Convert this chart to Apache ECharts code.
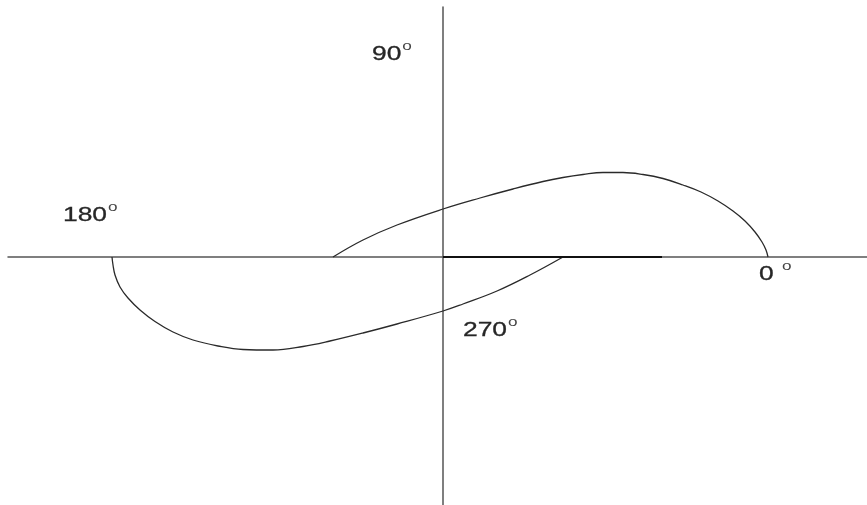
<!DOCTYPE html>
<html>
<head>
<meta charset="utf-8">
<script src="https://cdn.jsdelivr.net/npm/echarts@6/dist/echarts.min.js"></script>
<style>
  html, body { margin: 0; padding: 0; background: #fff; }
  #chart { width: 867px; height: 505px; }
</style>
</head>
<body>
<div id="chart"></div>
<script>
// Polar plot of the frequency response: real part on x, imaginary part on y.
// Upper branch (0° side) sweeping from the real axis at 3.25 back to -1.10.
const upperBranch = [
  [3.25, 0.00], [3.23, 0.07], [3.19, 0.15], [3.12, 0.25], [3.02, 0.36],
  [2.90, 0.46], [2.75, 0.56], [2.58, 0.65], [2.40, 0.72], [2.20, 0.785],
  [2.00, 0.825], [1.80, 0.845], [1.60, 0.845], [1.40, 0.825], [1.20, 0.795],
  [1.00, 0.755], [0.70, 0.68], [0.37, 0.59], [0.00, 0.48], [-0.46, 0.32],
  [-0.80, 0.17], [-1.10, 0.00]
];
// Lower branch (180° side) from the real axis at 1.20 round to -3.31.
const lowerBranch = [
  [1.20, 0.00], [0.87, -0.18], [0.54, -0.34], [0.20, -0.47], [0.00, -0.54],
  [-0.46, -0.67], [-0.80, -0.76], [-1.13, -0.84], [-1.40, -0.895], [-1.70, -0.93],
  [-2.00, -0.925], [-2.25, -0.89], [-2.50, -0.83], [-2.70, -0.75], [-2.88, -0.645],
  [-3.03, -0.53], [-3.15, -0.41], [-3.23, -0.30], [-3.28, -0.18], [-3.30, -0.08],
  [-3.31, 0.00]
];
// Segment traced along the positive real axis.
const realSegment = [[0.00, 0.00], [2.19, 0.00]];

// Angle labels and the points (in plot units) where they sit.
const angleLabels = ['90', '180', '0', '270'];
const degreeGaps = ['', '', ' ', ''];
const labelAnchors = [[-0.71, 2.03], [-3.80, 0.42], [3.16, -0.17], [0.20, -0.73]];

const xRange = [-4.35, 4.24];
const yRange = [-2.48, 2.50];

const chart = echarts.init(document.getElementById('chart'), null, { renderer: 'canvas' });

const lineStyleCurve = { color: '#2a2a2a', width: 1.3 };

chart.setOption({
  animation: false,
  backgroundColor: '#ffffff',
  grid: { left: 8, right: 0, top: 7, bottom: 0, containLabel: false },
  xAxis: {
    type: 'value', min: xRange[0], max: xRange[1],
    axisLine: { show: true, onZero: true, lineStyle: { color: '#555', width: 1.5 } },
    axisTick: { show: false }, axisLabel: { show: false }, splitLine: { show: false }
  },
  yAxis: {
    type: 'value', min: yRange[0], max: yRange[1],
    axisLine: { show: true, onZero: true, lineStyle: { color: '#555', width: 1.5 } },
    axisTick: { show: false }, axisLabel: { show: false }, splitLine: { show: false }
  },
  series: [
    { type: 'line', data: upperBranch, smooth: 0.4, symbol: 'none', lineStyle: lineStyleCurve },
    { type: 'line', data: lowerBranch, smooth: 0.4, symbol: 'none', lineStyle: lineStyleCurve },
    { type: 'line', data: realSegment, symbol: 'none', lineStyle: { color: '#111', width: 2.2 } }
  ]
});

// Angle annotations: digits plus a raised small "o" as the degree mark.
const labelFont = '"Liberation Sans", Arial, sans-serif';
const widen = 1.32;
const digitSize = 20;
const graphics = [];
const measureCtx = document.createElement('canvas').getContext('2d');
measureCtx.font = digitSize + 'px ' + labelFont;
angleLabels.forEach(function (txt, i) {
  const p = chart.convertToPixel({ gridIndex: 0 }, labelAnchors[i]);
  const w = measureCtx.measureText(txt + degreeGaps[i]).width * widen;
  graphics.push({
    type: 'text', x: p[0], y: p[1], scaleX: widen,
    style: { text: txt + degreeGaps[i], font: digitSize + 'px ' + labelFont, fill: '#262626',
             stroke: '#262626', lineWidth: 0.3,
             textAlign: 'left', textVerticalAlign: 'middle', verticalAlign: 'middle' }
  });
  graphics.push({
    type: 'text', x: p[0] + w + 1, y: p[1] - 8, scaleX: widen,
    style: { text: 'o', font: '13px ' + labelFont, fill: '#444',
             textAlign: 'left', textVerticalAlign: 'middle', verticalAlign: 'middle' }
  });
});
chart.setOption({ graphic: graphics });
</script>
</body>
</html>
